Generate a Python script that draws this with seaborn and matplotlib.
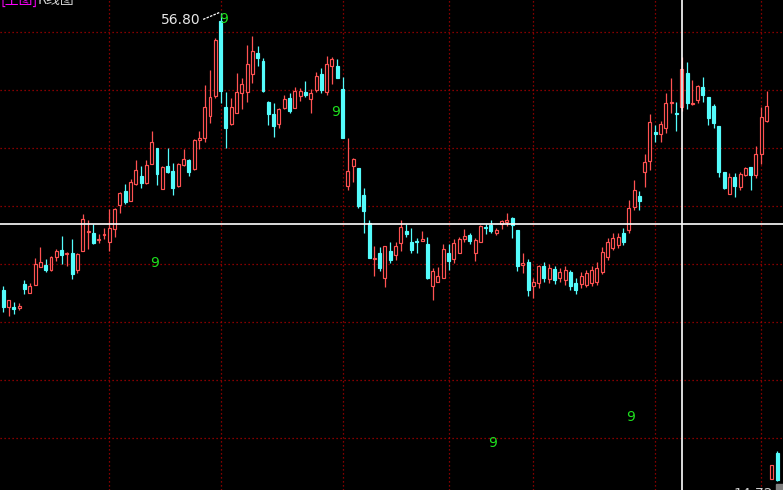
import matplotlib
matplotlib.use("Agg")
import matplotlib.pyplot as plt
import matplotlib.patches as mpatches
import seaborn as sns
import numpy as np
import pandas as pd

sns.set_theme(style="dark")
plt.rcParams['font.family'] = ['Noto Sans CJK SC', 'DejaVu Sans']

open_ = [31.87, 30.34, 30.34, 30.25, 32.41, 31.60, 32.32, 33.94, 34.12, 33.67,
         34.84, 35.47, 35.11, 35.20, 33.67, 35.38, 37.09, 37.00, 36.37, 36.82,
         36.19, 37.36, 39.52, 40.78, 39.88, 41.41, 42.13, 41.50, 43.21, 44.65,
         40.96, 43.03, 42.58, 41.23, 43.12, 43.57, 42.76, 45.37, 45.55, 47.53,
         49.33, 56.08, 48.34, 46.81, 47.80, 49.60, 49.69, 51.31, 53.20, 52.48,
         48.79, 47.71, 46.81, 48.25, 49.15, 48.25, 49.33, 49.69, 49.06, 49.87,
         51.31, 49.69, 52.03, 52.03, 49.96, 41.23, 43.03, 42.85, 40.42, 37.90,
         34.66, 35.20, 32.95, 35.38, 35.02, 36.10, 37.18, 36.19, 36.28, 36.28,
         36.01, 32.23, 32.59, 32.95, 35.20, 34.66, 35.20, 36.46, 36.82, 35.20,
         36.19, 37.54, 37.72, 37.00, 37.81, 37.99, 38.35, 37.27, 34.12, 34.39,
         32.23, 32.50, 34.03, 32.86, 33.76, 32.95, 32.77, 33.49, 32.50, 32.41,
         32.32, 32.50, 32.59, 33.49, 34.84, 35.65, 35.92, 37.00, 37.27, 39.34,
         40.33, 42.49, 43.48, 46.09, 45.91, 46.45, 48.70, 47.80, 48.34, 51.40,
         48.57, 48.97, 50.14, 49.24, 48.43, 46.63, 42.49, 40.51, 42.04, 41.14,
         42.22, 42.94, 42.22, 44.11, 47.08, 14.86, 17.20]

high = [32.23, 30.97, 30.79, 30.70, 32.77, 32.50, 34.75, 35.74, 34.66, 34.93,
        35.56, 36.73, 35.29, 36.46, 35.20, 38.71, 38.17, 37.81, 36.91, 37.45,
        39.16, 39.25, 40.69, 41.41, 41.86, 43.57, 43.03, 43.57, 46.18, 44.65,
        43.03, 44.65, 43.30, 43.30, 44.56, 43.66, 45.46, 46.18, 50.32, 51.67,
        54.55, 56.80, 49.69, 49.15, 51.40, 50.95, 53.92, 54.73, 53.83, 52.75,
        48.88, 48.70, 48.25, 49.42, 49.60, 50.14, 50.05, 50.68, 49.96, 51.49,
        51.85, 52.93, 52.84, 52.66, 51.04, 45.55, 43.75, 42.85, 41.05, 38.17,
        35.83, 35.74, 35.83, 36.19, 36.19, 38.17, 37.81, 37.45, 36.55, 37.18,
        36.64, 33.85, 33.94, 36.01, 36.01, 36.46, 36.64, 37.36, 37.00, 36.55,
        37.72, 37.81, 38.17, 37.45, 38.17, 38.80, 38.44, 37.27, 35.20, 34.66,
        32.95, 34.12, 34.39, 34.21, 34.03, 33.85, 34.03, 33.67, 32.95, 33.49,
        33.67, 34.03, 34.39, 35.74, 36.55, 37.00, 37.00, 37.45, 39.97, 41.77,
        40.78, 44.11, 47.71, 46.72, 47.08, 49.60, 50.95, 48.79, 52.84, 52.39,
        50.77, 50.32, 51.04, 49.24, 48.61, 46.63, 42.49, 42.40, 42.40, 42.49,
        42.94, 42.94, 44.83, 48.34, 49.78, 16.12, 17.38]

low = [29.89, 29.53, 29.71, 30.07, 31.51, 31.60, 32.32, 33.94, 33.49, 33.58,
       34.48, 34.21, 34.03, 32.86, 33.40, 35.38, 35.56, 36.01, 36.10, 36.46,
       35.38, 36.64, 38.80, 39.61, 39.88, 41.32, 41.05, 41.41, 43.21, 41.32,
       40.96, 42.40, 40.42, 41.14, 43.03, 42.13, 42.67, 44.56, 45.19, 46.90,
       49.15, 48.70, 44.65, 46.72, 47.80, 48.16, 48.79, 50.50, 52.03, 49.69,
       46.72, 45.64, 46.45, 48.16, 47.80, 48.25, 48.88, 49.24, 47.80, 49.69,
       49.60, 49.42, 50.41, 50.95, 45.55, 40.87, 41.59, 39.25, 37.00, 34.75,
       33.13, 33.58, 32.14, 34.30, 34.57, 35.38, 36.64, 35.20, 35.20, 36.28,
       32.86, 30.97, 32.59, 32.95, 33.67, 34.30, 35.20, 36.19, 36.01, 34.48,
       36.19, 36.91, 37.00, 36.82, 37.36, 37.63, 36.55, 33.58, 33.40, 31.33,
       31.15, 32.05, 32.59, 32.50, 32.41, 32.59, 32.32, 31.87, 31.51, 32.05,
       32.14, 32.23, 32.32, 33.31, 34.57, 35.47, 35.65, 35.92, 37.00, 39.07,
       39.07, 41.14, 42.67, 45.19, 45.19, 46.00, 47.80, 46.18, 47.98, 48.16,
       48.52, 48.70, 48.79, 46.72, 46.45, 42.04, 40.96, 40.51, 40.24, 40.87,
       42.13, 40.87, 41.95, 43.21, 46.99, 14.86, 14.72]

close = [30.34, 30.97, 30.16, 30.43, 31.96, 32.23, 34.21, 34.39, 33.67, 34.84,
         35.38, 35.02, 35.20, 33.31, 35.11, 38.26, 37.18, 36.10, 36.46, 36.91,
         37.45, 39.16, 40.60, 39.79, 41.59, 42.67, 41.50, 43.12, 45.19, 42.31,
         42.94, 42.49, 41.05, 43.21, 43.66, 42.49, 45.37, 45.55, 48.34, 49.24,
         54.37, 49.78, 46.45, 48.34, 49.69, 50.41, 52.21, 53.38, 52.75, 49.78,
         47.71, 46.63, 48.16, 49.06, 47.98, 49.78, 49.78, 49.42, 49.60, 51.13,
         49.87, 52.21, 52.66, 50.95, 45.55, 42.58, 43.66, 39.43, 38.98, 34.75,
         34.75, 33.85, 35.83, 34.57, 35.83, 37.54, 36.91, 35.47, 36.19, 36.46,
         32.95, 33.58, 33.13, 35.56, 34.48, 36.10, 36.46, 36.73, 36.28, 36.37,
         37.63, 37.45, 37.18, 37.27, 38.08, 38.17, 37.72, 34.03, 34.30, 31.87,
         32.59, 34.03, 32.95, 33.85, 32.77, 33.49, 33.67, 32.23, 31.87, 33.13,
         33.40, 33.67, 33.85, 35.29, 36.19, 36.55, 36.64, 36.19, 39.25, 40.87,
         39.88, 43.39, 46.99, 45.91, 46.81, 48.70, 48.79, 47.71, 51.76, 48.70,
         48.66, 50.23, 49.42, 47.35, 46.90, 42.49, 41.05, 42.04, 41.23, 42.31,
         42.85, 42.22, 44.11, 47.44, 48.43, 16.12, 14.80]

month_starts = [20, 41, 64, 84, 100, 123, 143]
grid_levels = [55.09, 49.87, 44.65, 39.43, 34.21, 28.99, 23.77, 18.55]
td9_marks = [(41.6, 56.26), (62.6, 47.89), (28.6, 34.30), (92.4, 18.10), (118.4, 20.44)]
cross_idx, cross_price = 128, 37.81

df = pd.DataFrame({"open": open_, "high": high, "low": low, "close": close})
df["idx"] = np.arange(len(df))
df["up"] = df["close"] >= df["open"]

RED = "#ff5252"
CYAN = "#54fcfc"
BG = "#000000"

fig = plt.figure(figsize=(7.83, 4.90), dpi=100, facecolor=BG)
ax = fig.add_axes([0, 0, 1, 1])
ax.set_facecolor(BG)

# grid
for g in grid_levels:
    ax.axhline(g, color="#b00000", lw=0.9, ls=(0, (1, 2.2)), zorder=1)
for m in month_starts:
    ax.axvline(m, color="#b00000", lw=0.9, ls=(0, (1, 2.2)), zorder=1)

colors = np.where(df["up"], RED, CYAN)
# wicks via seaborn-styled axes
ax.vlines(df["idx"], df["low"], df["high"], colors=colors, lw=0.9, zorder=2)

body_bottom = np.minimum(df["open"], df["close"])
body_h = np.maximum(np.abs(df["close"] - df["open"]), 0.06)
face = np.where(df["up"], BG, CYAN)
ax.bar(df["idx"], body_h, bottom=body_bottom, width=0.56, color=face,
       edgecolor=colors, linewidth=0.85, zorder=3)

# crosshair
ax.axhline(cross_price, color="white", lw=1.2, zorder=4)
ax.axvline(cross_idx, color="white", lw=1.2, zorder=4)

# max annotation
imax = int(np.argmax(high))
ax.plot([37.7, imax - 0.2], [56.22, high[imax] + 0.05], color="white", lw=0.9,
        ls=(0, (2, 1)), zorder=5)
ax.text(37.2, 56.17, f"{high[imax]:.2f}", color="#e8e8e8", fontsize=10,
        ha="right", va="center", family="DejaVu Sans", zorder=5)

for x, y in td9_marks:
    ax.text(x, y, "9", color="#1ee01e", fontsize=10, ha="center", va="center",
            family="DejaVu Sans", zorder=5)

ax.set_xlim(-0.62, 147.1)
ax.set_ylim(13.87, 57.97)
ax.set_xticks([])
ax.set_yticks([])
for s in ax.spines.values():
    s.set_visible(False)

# clipped header texts
fig.text(0.0, 1.0, "[主图]", color="#ff00ff", fontsize=10, va="center", ha="left")
fig.text(38 / 783, 1.0, "K线图", color="#d0d0d0", fontsize=10, va="center", ha="left")
fig.text(733 / 783, 3 / 490, f"{low[-1]:.2f}", color="#d0d0d0", fontsize=10,
         va="top", ha="left", family="DejaVu Sans")
fig.patches.append(mpatches.Rectangle((776 / 783, 0), 7 / 783, 6 / 490,
                                      transform=fig.transFigure, color="#808080"))

fig.savefig("out.png", dpi=100, facecolor=BG)
